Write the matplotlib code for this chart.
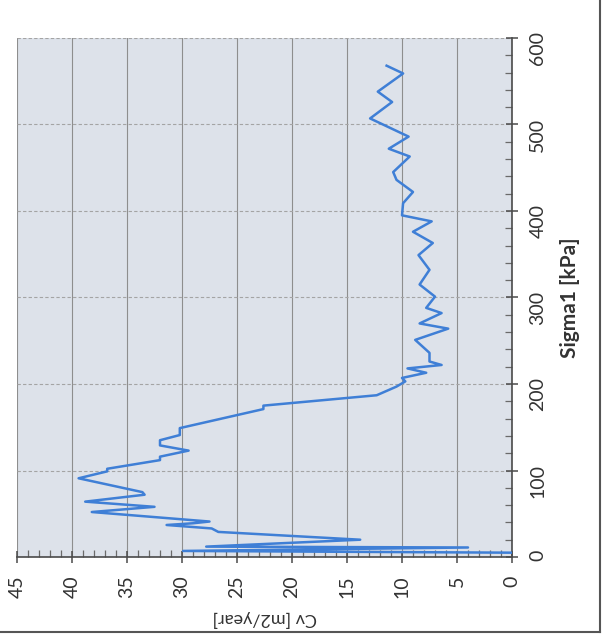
import matplotlib.pyplot as plt
from matplotlib.ticker import MultipleLocator
from matplotlib.lines import Line2D

# Dati (Sigma1 in kPa, Cv in m2/year)
sigma1 = [5, 7, 11, 12, 20, 29, 33, 37, 39, 41, 52, 58, 64, 72, 75, 91,
          99, 102, 112, 116, 123, 129, 135, 141, 149, 171, 175, 187, 197,
          203, 207, 210, 213, 218, 222, 226, 236, 251, 264, 270, 282, 288,
          301, 315, 332, 349, 363, 376, 388, 395, 409, 422, 436, 445, 463,
          472, 486, 507, 526, 538, 559, 568]
cv = [0.1, 29.9, 4.0, 27.8, 13.8, 26.7, 27.3, 31.4, 29.0, 27.5, 38.2, 32.5,
      38.8, 33.4, 33.6, 39.4, 36.8, 36.8, 32.0, 32.0, 29.4, 32.0, 32.0, 30.2,
      30.2, 22.6, 22.6, 12.3, 10.5, 9.7, 10.0, 8.9, 7.8, 9.5, 6.4, 7.5, 7.5,
      8.8, 5.8, 8.4, 6.4, 7.8, 7.0, 8.4, 7.5, 8.5, 7.2, 9.0, 7.3, 10.0, 9.9,
      9.0, 10.5, 10.8, 9.3, 11.2, 9.4, 12.9, 10.9, 12.2, 9.9, 11.4]

plt.rcParams['font.family'] = ['Lato', 'DejaVu Sans']

fig = plt.figure(figsize=(6.04, 6.4), dpi=100)
ax = fig.add_axes([17 / 604, 1 - 557 / 640, (512 - 17) / 604, (557 - 38) / 640])
ax.set_facecolor('#dde2ea')

# Grafico ruotato: Cv in orizzontale (invertito), Sigma1 in verticale
ax.plot(cv, sigma1, color='#3f7fd6', lw=1.8, zorder=3)
ax.set_xlim(45, 0)
ax.set_ylim(0, 600)

ax.xaxis.set_major_locator(MultipleLocator(5))
ax.xaxis.set_minor_locator(MultipleLocator(1))
ax.yaxis.set_major_locator(MultipleLocator(100))
ax.yaxis.set_minor_locator(MultipleLocator(20))

ax.yaxis.tick_right()
ax.yaxis.set_label_position('right')
for s in ['top', 'left']:
    ax.spines[s].set_visible(False)
for s in ['right', 'bottom']:
    ax.spines[s].set_color('#4a4a4a')
    ax.spines[s].set_linewidth(1.2)

ax.tick_params(which='major', direction='inout', length=9, width=1.1, color='#4a4a4a')
ax.tick_params(which='minor', direction='in', length=5, width=0.9, color='#6a6a6a')
ax.tick_params(axis='x', which='major', labelrotation=90, pad=9, labelsize=14, labelcolor='#333333')
ax.tick_params(axis='y', which='major', labelrotation=90, pad=8, labelsize=14, labelcolor='#333333')

# Griglia
ax.grid(axis='x', which='major', color='#8e8e8e', lw=0.8)
ax.grid(axis='y', which='major', color='#a4a4a4', lw=0.8, ls=(0, (3, 2)))
ax.set_axisbelow(True)

ax.set_ylabel('Sigma1 [kPa]', fontsize=15, fontweight='bold', color='#333333', labelpad=10)
# Titolo asse Cv capovolto, sotto le etichette
fig.text((17 + 512) / 2 / 604, 1 - 619 / 640, 'Cv [m2/year]', rotation=180,
         ha='center', va='center', fontsize=13, color='#333333')

# Cornice del grafico
fig.add_artist(Line2D([600 / 604, 600 / 604], [1 - 632 / 640, 1], color='#555555', lw=1.5))
fig.add_artist(Line2D([0, 600 / 604], [1 - 632 / 640, 1 - 632 / 640], color='#555555', lw=1.5))

fig.savefig('out.png', dpi=100)
